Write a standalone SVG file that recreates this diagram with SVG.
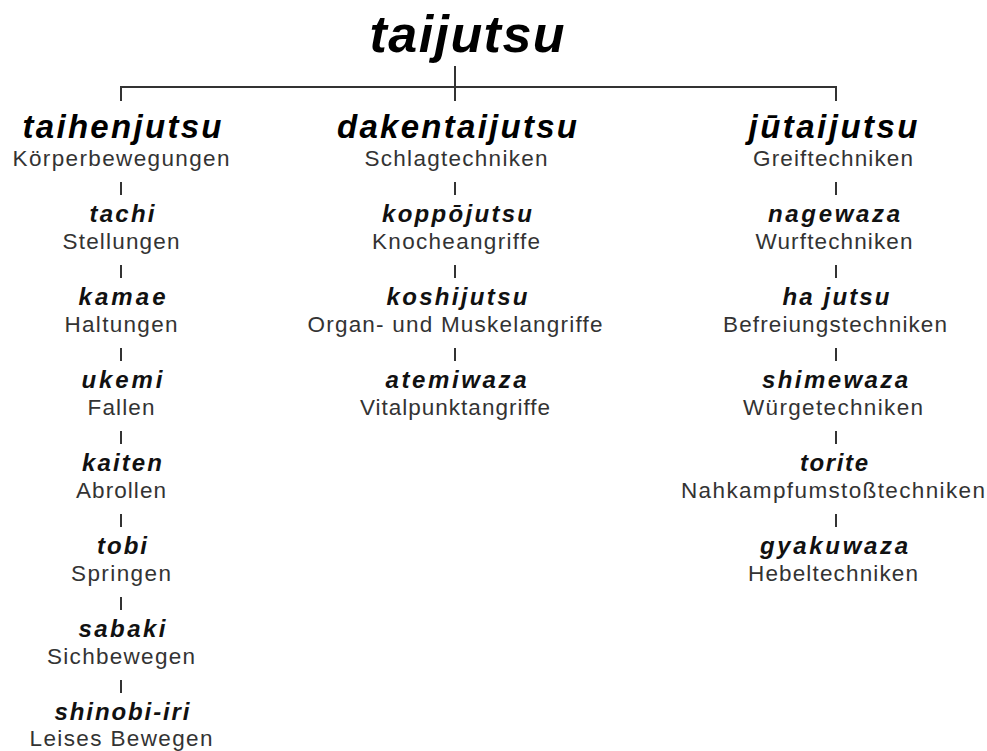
<svg xmlns="http://www.w3.org/2000/svg" width="987" height="751" viewBox="0 0 987 751">
<style>
text{font-family:"Liberation Sans",Arial,Helvetica,sans-serif;text-anchor:middle}
.title{font-weight:bold;font-style:italic;font-size:52px;fill:#000}
.h{font-weight:bold;font-style:italic;font-size:33px;fill:#000}
.i{font-weight:bold;font-style:italic;font-size:24px;fill:#111}
.s{font-size:22.5px;fill:#333}
.c line{stroke:#333;stroke-width:2}
</style>
<rect width="987" height="751" fill="#fff"/>
<g id="connectors" class="c">
<line x1="455" y1="66" x2="455" y2="101"/>
<line x1="120" y1="87" x2="837" y2="87"/>
<line x1="121" y1="86" x2="121" y2="101"/>
<line x1="836" y1="86" x2="836" y2="101"/>
<line x1="121" y1="182" x2="121" y2="195"/>
<line x1="121" y1="265" x2="121" y2="278"/>
<line x1="121" y1="348" x2="121" y2="361"/>
<line x1="121" y1="431" x2="121" y2="444"/>
<line x1="121" y1="514" x2="121" y2="527"/>
<line x1="121" y1="597" x2="121" y2="610"/>
<line x1="121" y1="680" x2="121" y2="693"/>
<line x1="455" y1="182" x2="455" y2="195"/>
<line x1="455" y1="265" x2="455" y2="278"/>
<line x1="455" y1="348" x2="455" y2="361"/>
<line x1="836" y1="182" x2="836" y2="195"/>
<line x1="836" y1="265" x2="836" y2="278"/>
<line x1="836" y1="348" x2="836" y2="361"/>
<line x1="836" y1="431" x2="836" y2="444"/>
<line x1="836" y1="514" x2="836" y2="527"/>
</g>
<g id="taijutsu"><text class="title" x="467" y="52" textLength="195">taijutsu</text></g>
<g id="taihenjutsu"><text class="h" x="122" y="138" textLength="199">taihenjutsu</text><text class="s" x="121" y="166" textLength="217">Körperbewegungen</text></g>
<g id="tachi"><text class="i" x="122" y="222" textLength="65">tachi</text><text class="s" x="121" y="249" textLength="117">Stellungen</text></g>
<g id="kamae"><text class="i" x="122" y="305" textLength="87">kamae</text><text class="s" x="121" y="332" textLength="113">Haltungen</text></g>
<g id="ukemi"><text class="i" x="122" y="388" textLength="81">ukemi</text><text class="s" x="121" y="415" textLength="67">Fallen</text></g>
<g id="kaiten"><text class="i" x="122" y="471" textLength="80">kaiten</text><text class="s" x="121" y="498" textLength="90">Abrollen</text></g>
<g id="tobi"><text class="i" x="122" y="554" textLength="50">tobi</text><text class="s" x="121" y="581" textLength="100">Springen</text></g>
<g id="sabaki"><text class="i" x="122" y="637" textLength="87">sabaki</text><text class="s" x="121" y="664" textLength="148">Sichbewegen</text></g>
<g id="shinobi-iri"><text class="i" x="122" y="720" textLength="135">shinobi-iri</text><text class="s" x="121" y="746" textLength="183">Leises Bewegen</text></g>
<g id="dakentaijutsu"><text class="h" x="457" y="138" textLength="240">dakentaijutsu</text><text class="s" x="456" y="166" textLength="183">Schlagtechniken</text></g>
<g id="koppojutsu"><text class="i" x="457" y="222" textLength="150">koppōjutsu</text><text class="s" x="456" y="249" textLength="168">Knocheangriffe</text></g>
<g id="koshijutsu"><text class="i" x="457" y="305" textLength="141">koshijutsu</text><text class="s" x="455" y="332" textLength="295">Organ- und Muskelangriffe</text></g>
<g id="atemiwaza"><text class="i" x="456" y="388" textLength="141">atemiwaza</text><text class="s" x="455" y="415" textLength="190">Vitalpunktangriffe</text></g>
<g id="jutaijutsu"><text class="h" x="833" y="138" textLength="169">jūtaijutsu</text><text class="s" x="833" y="166" textLength="160">Greiftechniken</text></g>
<g id="nagewaza"><text class="i" x="834" y="222" textLength="132">nagewaza</text><text class="s" x="834" y="249" textLength="157">Wurftechniken</text></g>
<g id="ha-jutsu"><text class="i" x="836" y="305" textLength="107">ha jutsu</text><text class="s" x="835" y="332" textLength="224">Befreiungstechniken</text></g>
<g id="shimewaza"><text class="i" x="835" y="388" textLength="146">shimewaza</text><text class="s" x="833" y="415" textLength="180">Würgetechniken</text></g>
<g id="torite"><text class="i" x="834" y="471" textLength="68">torite</text><text class="s" x="833" y="498" textLength="304">Nahkampfumstoßtechniken</text></g>
<g id="gyakuwaza"><text class="i" x="834" y="554" textLength="148">gyakuwaza</text><text class="s" x="833" y="581" textLength="170">Hebeltechniken</text></g>
</svg>
